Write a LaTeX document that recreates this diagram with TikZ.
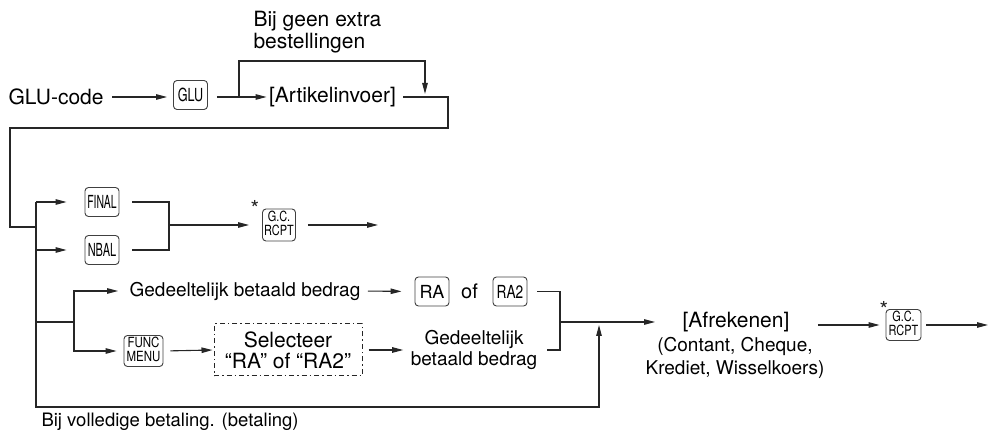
\documentclass[tikz,border=0pt]{standalone}
\usepackage{fontspec}
\setmainfont{TeX Gyre Heros}
\usepackage{tikz}
\usetikzlibrary{arrows.meta}

% condensed key caption
\newcommand{\keylbl}[2][0.7]{\scalebox{#1}[1]{#2}}
\newcommand{\keytwo}[3][0.8]{\scalebox{#1}[1]{\fontsize{14}{12.5}\selectfont\begin{tabular}{@{}c@{}}#2\\#3\end{tabular}}}

\begin{document}
\begin{tikzpicture}[x=1pt, y=-1pt, line width=1.1pt, black!85,
    >={Triangle[length=11pt,width=5.5pt]},
    big/.style={inner sep=0pt, text=black, font=\fontsize{21}{21}\selectfont},
    small/.style={inner sep=0pt, text=black, font=\fontsize{19}{21}\selectfont},
    key/.style={draw=black!75, line width=0.9pt, rounded corners=3.5pt, inner sep=0pt,
        minimum width=34pt, minimum height=29pt, text=black, font=\fontsize{18}{18}\selectfont},
    keyii/.style={key, minimum width=35pt, minimum height=31pt},
    dashdot/.style={draw, line width=1pt, dash pattern=on 5pt off 3pt on 1.5pt off 3pt}]
    \useasboundingbox (0,0) rectangle (989,435);

    % First row
    \node[big, anchor=west] (glucode) at (8,97) {GLU-code};
    \node[key] (glu) at (190.5,95) {\keylbl[0.7]{GLU}};
    \node[big] (artikel) at (332.5,97) {[Artikelinvoer]};
    \node[big, anchor=north west, align=left, font=\fontsize{21}{22}\selectfont] (geen) at (253,11) {Bij geen extra\\bestellingen};

    \draw[->, shorten <=8pt, shorten >=6pt] (glucode.east) -- (glucode.east -| glu.west);
    \draw[->, shorten <=9pt, shorten >=2pt] (glucode.east -| glu.east) -- (glucode.east -| artikel.west);

    % Loop over the item entry
    \coordinate (loopa) at (239,97);
    \coordinate (loopb) at (239,61);
    \coordinate (loopc) at (425,61);
    \coordinate (loopd) at (425,97);
    \draw[->, shorten >=3pt] (loopa) -- (loopb) -- (loopc) -- (loopd);

    % Down to the second part
    \coordinate (c1) at (448,97);
    \coordinate (c2) at (448,128);
    \coordinate (c3) at (10,128);
    \coordinate (c4) at (10,227);
    \coordinate (c5) at (36,227);
    \draw[shorten <=7pt] (artikel.east) -- (c1) -- (c2) -- (c3) -- (c4) -- (c5);

    % Main vertical line
    \coordinate (vtop) at (36,202);
    \coordinate (vbot) at (36,407);
    \coordinate (bend) at (599,407);
    \coordinate (jmerge) at (599,322);
    \draw[->, shorten >=3pt] (vtop) -- (vbot) -- (bend) -- (jmerge);
    \node[small, anchor=west, font=\fontsize{18.5}{21}\selectfont] (volledig) at (41,422) {Bij volledige betaling. (betaling)};

    % FINAL / NBAL
    \node[key] (final) at (102,202) {\keylbl[0.58]{FINAL}};
    \node[key] (nbal) at (102,250) {\keylbl[0.61]{NBAL}};
    \draw[->, shorten >=18pt] (vtop) -- (final.west);
    \draw[->, shorten >=18pt] (vtop |- nbal) -- (nbal.west);

    \coordinate (m1) at (169,202);
    \coordinate (m3) at (169,225);
    \draw[shorten <=13pt, shorten >=13pt] (final.east) -- (m1) |- (nbal.east);

    \node[keyii, minimum width=33pt, minimum height=32pt] (gc1) at (279,225) {\keytwo[0.78]{G.C.}{RCPT}};
    \node[inner sep=0pt, font=\fontsize{22}{22}\selectfont] (star1) at (255,208) {*};
    \coordinate (gcend) at (378,225);
    \draw[->, shorten >=13pt] (m3) -- (gc1.west);
    \draw[->, shorten <=12pt] (gc1.east) -- (gcend);

    % Partial payment branches
    \coordinate (jsplit) at (36,322);
    \coordinate (jb) at (74,322);
    \draw (jsplit) -- (jb);

    \node[small] (gedeel1) at (245,291) {Gedeeltelijk betaald bedrag};
    \node[key] (ra) at (432,291.5) {RA};
    \node[big, font=\fontsize{20}{20}\selectfont] (of1) at (469.5,291) {of};
    \node[key] (ra2) at (510,291.5) {\keylbl[0.76]{RA2}};
    \draw[->, shorten >=11pt] (jb) |- (gedeel1.west);
    \draw[->, shorten <=7pt, shorten >=13pt] (gedeel1.east) -- (ra.west);

    \node[keyii, minimum width=39pt] (func) at (143.5,351) {\keytwo[0.82]{FUNC}{MENU}};
    \node[dashdot, big, align=center, minimum width=148pt, minimum height=52pt] (select) at (288,350) {Selecteer\\“RA” of “RA2”};
    \node[small, align=center] (gedeel2) at (474,350) {Gedeeltelijk\\betaald bedrag};
    \draw[->, shorten >=7pt] (jb) |- (func.west);
    \draw[->, shorten <=7pt, shorten >=1pt] (func.east) -- (select.west);
    \draw[->, shorten <=6pt, shorten >=7pt] (select.east) -- (gedeel2.west);

    % Right bracket
    \coordinate (r2) at (560,350);
    \coordinate (r3) at (560,322);
    \draw[shorten <=10pt, shorten >=9pt] (ra2.east) -| (r2) -- (gedeel2.east);

    % Settlement
    \node[big] (afrek) at (736,322) {[Afrekenen]};
    \node[small, anchor=north, align=center, font=\fontsize{19}{23}\selectfont] (afreksub) at (735,337) {(Contant, Cheque,\\Krediet, Wisselkoers)};
    \draw[->, shorten >=27pt] (r3) -- (afrek.west);

    \node[keyii] (gc2) at (903.5,325) {\keytwo[0.78]{G.C.}{RCPT}};
    \node[inner sep=0pt, font=\fontsize{22}{22}\selectfont] (star2) at (884,309) {*};
    \coordinate (gcend2) at (988,325);
    \draw[->, shorten <=28pt, shorten >=6pt] (afrek.east |- gc2) -- (gc2.west);
    \draw[->, shorten <=5pt] (gc2.east) -- (gcend2);
\end{tikzpicture}
\end{document}
